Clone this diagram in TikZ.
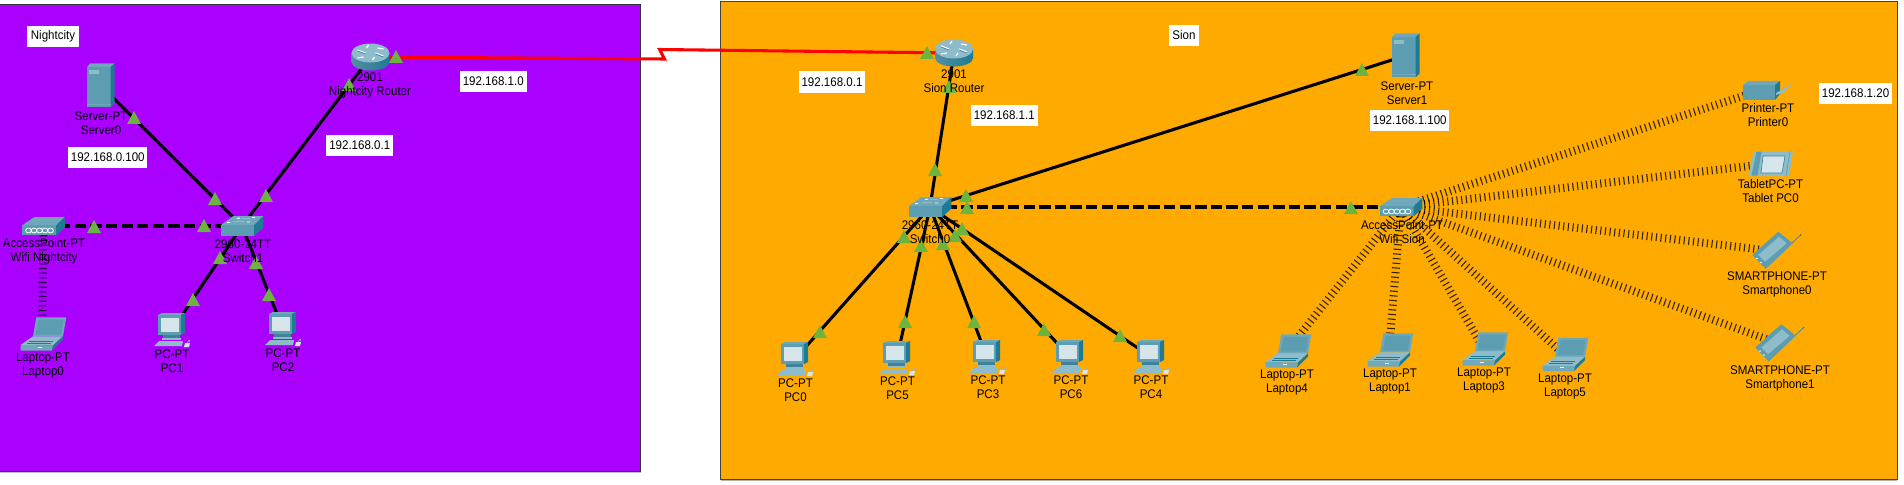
\documentclass[tikz,border=0pt]{standalone}
\usepackage{fontspec}
\setmainfont[FakeStretch=0.92]{Liberation Sans}
\definecolor{purplebg}{HTML}{A900FF}
\definecolor{orangebg}{HTML}{FFAA00}
\definecolor{ictop}{HTML}{6FA8BA}
\definecolor{icfront}{HTML}{5C9DB2}
\definecolor{icside}{HTML}{1F7B94}
\definecolor{icdark}{HTML}{3F8299}
\definecolor{icscreen}{HTML}{D5E5EA}
\definecolor{iclight}{HTML}{8FBCCB}
\definecolor{lkgreen}{HTML}{6CB33F}
\tikzset{
  wire/.style={black,line width=2.3pt},
  dashwire/.style={black,line width=2.3pt,dash pattern=on 8.5pt off 3.2pt},
  serialwire/.style={red,line width=2.3pt,line join=miter},
  wifiwire/.style={black,opacity=.8,line width=6pt,dash pattern=on .8pt off 2.7pt},
  anchorpt/.style={inner sep=0pt,minimum size=0pt,outer sep=0pt},
  devlabel/.style={inner sep=0pt,align=center,font=\fontsize{9.4}{10.5}\selectfont,text=black},
  ipbox/.style={fill=white,inner sep=0pt,minimum height=15.8pt,font=\fontsize{9.4}{11}\selectfont,text=black},
  switchicon/.pic={
    \fill[ictop] (-21.3,-.7)--(-8.7,-10)--(21.3,-10)--(12,-.7)--cycle;
    \fill[icfront] (-21.3,-.7) rectangle (12,10.3);
    \fill[icside] (12,-.7)--(21.3,-10)--(21.3,1.7)--(12,10.3)--cycle;
    \draw[white,line width=.7pt] (-5,-7.5)--(-2,-8) (10,-8.5)--(13,-8.5) (-15,-3.5)--(-12,-3.5) (5,-4)--(8,-4);
    \draw[iclight,line width=.7pt] (-8,-4.5)--(2,-4.5) (0,-7.5)--(8,-7.5);
  },
  apicon/.pic={
    \fill[ictop] (-21.3,-.7)--(-9,-9)--(21.3,-9)--(12.7,-.7)--cycle;
    \fill[icfront] (-21.3,-.7) rectangle (12.7,9.3);
    \fill[icside] (12.7,-.7)--(21.3,-9)--(21.3,1.7)--(12.7,9.3)--cycle;
    \foreach \cx in {-15,-9.5,-4,1.5,7}
      \draw[white,line width=.6pt] (\cx,4.5) ellipse (2.9 and 2.4);
  },
  servericon/.pic={
    \fill[ictop] (-13.7,-18.7)--(-11,-22)--(13.7,-22)--(9.7,-18.7)--cycle;
    \fill[icfront] (-13.7,-18.7) rectangle (9.7,22);
    \fill[icside] (9.7,-18.7)--(13.7,-22)--(13.7,18)--(9.7,22)--cycle;
    \fill[iclight] (-12,-15.5) rectangle (-2,-11.5);
    \fill[ictop] (-13.7,19) rectangle (9.7,20);
  },
  routericon/.pic={
    \shade[left color=icdark!90,middle color=icscreen,right color=icside]
      (-19,-4) -- (-19,5) arc[start angle=180,end angle=0,x radius=19,y radius=8.5] -- (19,-4) -- cycle;
    \fill[iclight] (0,-4) ellipse (19 and 9.5);
    \draw[white,line width=.9pt] (-13,-7)--(-5,-4) (13,-1)--(5,-4) (-2,-12)--(-4,-9) (2,3)--(4,0) (7,-9)--(13,-8) (-7,0)--(-13,1);
    \draw[icside,line width=.4pt] (-13,-6)--(-5,-3) (13,0)--(5,-3);
  },
  pcicon/.pic={
    \fill[ictop] (-14,-15)--(-10,-17)--(13,-17)--(9,-15)--cycle;
    \fill[icfront] (-14,-15) rectangle (9,5);
    \fill[icside] (9,-15)--(13,-17)--(13,3)--(9,5)--cycle;
    \fill[icscreen] (-11.5,-12.5) rectangle (7,2);
    \fill[icdark] (-9,5) rectangle (8,8);
    \fill[iclight] (-10,8) rectangle (9,10);
    \fill[iclight] (-18,16)--(-13,11)--(11,11)--(10,16)--cycle;
    \fill[icscreen] (13,13)--(18,13)--(17,17)--(12,17)--cycle;
    \draw[iclight,line width=.4pt] (15,13) .. controls (17,9) and (19,10) .. (17,12);
  },
  laptopicon/.pic={
    \fill[ictop] (-5.7,-16.7)--(24.3,-16.7)--(21,2.3)--(-9,2.3)--cycle;
    \fill[icfront] (-3,-14.5)--(21.5,-14.5)--(19,.5)--(-6.5,.5)--cycle;
    \fill[iclight] (-21.3,11)--(-9,2.3)--(21,2.3)--(11,11.5)--cycle;
    \fill[ictop] (-21.3,11)--(11,11.5)--(10,16.7)--(-21.3,16.7)--cycle;
    \fill[icside] (11,11.5)--(21,2.3)--(21,5.5)--(10,16.7)--cycle;
    \draw[icside,line width=.5pt] (-13,7)--(11,7) (-15,9)--(9,9);
    \draw[white,line width=.5pt] (-4,13)--(0,13);
  },
  printericon/.pic={
    \fill[ictop] (-25,-3)--(-20,-7)--(12,-7)--(7,-3)--cycle;
    \fill[icfront] (-25,-3) rectangle (7,12);
    \fill[icside] (7,-3)--(12,-7)--(12,6)--(7,12)--cycle;
    \fill[iclight] (8,5)--(25,-5)--(15,5)--(8,7)--cycle;
  },
  tableticon/.pic={
    \fill[iclight] (-16.5,-12.5)--(22.5,-12.5)--(18.5,12.5)--(-22.5,12.5)--cycle;
    \fill[icfront] (-14,-12)--(-9,-12)--(-13,12)--(-19,12)--cycle;
    \fill[icscreen] (-7.5,-7.5)--(14.5,-7.5)--(11.5,9.5)--(-9.5,9.5)--cycle;
    \draw[icdark,line width=.5pt] (-7.5,-7.5)--(14.5,-7.5)--(11.5,9.5)--(-9.5,9.5)--cycle;
    \draw[icfront,line width=.5pt] (19.5,-12.5)--(15.5,12.5);
  },
  phoneicon/.pic={
    \draw[icdark,line width=.5pt] (14.7,-8.2)--(23.7,-16.5);
    \fill[icside] (23.7,-16.5) circle (.9);
    \fill[icfront] (-24.7,3.5)--(1.3,-19.8)--(15.7,-8.2)--(-11.3,17.5)--cycle;
    \fill[iclight] (-18.7,3.5)--(2,-14.8)--(9.7,-8.2)--(-12,10.2)--cycle;
    \fill[white] (-20,7) circle (.8) (-16,11) circle (.8);
  },
  lkup/.pic={\fill[lkgreen] (0,-7)--(7,6)--(-7,6)--cycle;}
}
\newcommand{\ptlabel}[4]{\node[devlabel] (#1) at (#2) {#3\\#4};}
\begin{document}
\begin{tikzpicture}[x=.75pt,y=-.75pt]
\useasboundingbox (0,0) rectangle (1904,485);
% areas
\fill[black!25] (0,471) rectangle (641,473);
\filldraw[fill=purplebg,draw=black!80,line width=.6pt] (-3,4.5) rectangle (640.5,471);
\fill[black!30] (720.5,479) rectangle (1897,481);
\filldraw[fill=orangebg,draw=black!75,line width=.7pt] (720.5,1) rectangle (1897,479);
% device anchors
\node[anchorpt] (rN) at (370.5,57) {};
\node[anchorpt] (srv0) at (101,85.5) {};
\node[anchorpt] (sw1) at (242,226) {};
\node[anchorpt] (apN) at (43.5,226) {};
\node[anchorpt] (lap0) at (42,334) {};
\node[anchorpt] (pc1) at (172,330) {};
\node[anchorpt] (pc2) at (283,329) {};
\node[anchorpt] (rS) at (954,53) {};
\node[anchorpt] (sw0) at (930,207) {};
\node[anchorpt] (srv1) at (1406,55.5) {};
\node[anchorpt] (apS) at (1401,207) {};
\node[anchorpt] (pc0) at (795,359) {};
\node[anchorpt] (pc5) at (897,358) {};
\node[anchorpt] (pc3) at (987,357) {};
\node[anchorpt] (pc6) at (1070,357) {};
\node[anchorpt] (pc4) at (1151,357) {};
\node[anchorpt] (lap4) at (1287,351) {};
\node[anchorpt] (lap1) at (1389,350) {};
\node[anchorpt] (lap3) at (1484,349) {};
\node[anchorpt] (lap5) at (1564,354.5) {};
\node[anchorpt] (prn) at (1768,88) {};
\node[anchorpt] (tab) at (1770.5,163.5) {};
\node[anchorpt] (ph0) at (1777,251.5) {};
\node[anchorpt] (ph1) at (1780,344) {};
\coordinate (jogA) at (664.5,59);
\coordinate (jogB) at (659.6,49.5);
% wireless links
\foreach \t in {lap0} \draw[wifiwire] (apN.center) -- (\t.center);
\foreach \t in {prn,tab,ph0,ph1,lap4,lap1,lap3,lap5} \draw[wifiwire] (apS.center) -- (\t.center);
% wired links
\draw[wire] (srv0.center) -- (sw1.center);
\draw[wire] (rN.center) -- (sw1.center);
\draw[wire] (sw1.center) -- (pc1.center);
\draw[wire] (sw1.center) -- (pc2.center);
\draw[dashwire] (apN.center) -- (sw1.center);
\draw[wire] (rS.center) -- (sw0.center);
\draw[wire] (sw0.center) -- (srv1.center);
\draw[dashwire] (sw0.center) -- (apS.center);
\foreach \t in {pc0,pc5,pc3,pc6,pc4} \draw[wire] (sw0.center) -- (\t.center);
\draw[serialwire] (rN.center) -- (jogA) -- (jogB) -- (rS.center);
% icons
\pic at (rN) {routericon};
\pic at (srv0) {servericon};
\pic at (sw1) {switchicon};
\pic at (apN) {apicon};
\pic at (lap0) {laptopicon};
\pic at (pc1) {pcicon};
\pic at (pc2) {pcicon};
\pic at (rS) {routericon};
\pic at (sw0) {switchicon};
\pic at (srv1) {servericon};
\pic at (apS) {apicon};
\foreach \t in {pc0,pc5,pc3,pc6,pc4} \pic at (\t) {pcicon};
\foreach \t in {lap4,lap1,lap3,lap5} \pic at (\t) {laptopicon};
\pic at (prn) {printericon};
\pic at (tab) {tableticon};
\pic at (ph0) {phoneicon};
\pic at (ph1) {phoneicon};
% link lights
\foreach \p in {(134,118),(215,199),(266,196),(349,85),(396,57),(94,227),(204,226),(220,258),(256,263),(193,300),(269,295),
  (927,53),(949,87),(935,170),(966,196),(967,208),(904,237),(921,246),(943,244),(955,236),(962,229),
  (820,332),(905,322),(974,322),(1044,330),(1120,336),(1362,70),(1351,208)}
  \pic at \p {lkup};
% device labels
\ptlabel{tRN}{370,85}{2901}{Nightcity Router}
\ptlabel{tSrv0}{101,123}{Server-PT}{Server0}
\ptlabel{tSw1}{243,251}{2960-24TT}{Switch1}
\ptlabel{tApN}{44,251}{AccessPoint-PT}{Wifi Nightcity}
\ptlabel{tLap0}{43,365}{Laptop-PT}{Laptop0}
\ptlabel{tPc1}{172,361}{PC-PT}{PC1}
\ptlabel{tPc2}{283,360}{PC-PT}{PC2}
\ptlabel{tRS}{954,81}{2901}{Sion Router}
\ptlabel{tSw0}{930,232}{2960-24TT}{Switch0}
\ptlabel{tSrv1}{1407,93}{Server-PT}{Server1}
\ptlabel{tApS}{1402,232}{AccessPoint-PT}{Wifi Sion}
\ptlabel{tPc0}{795.5,390}{PC-PT}{PC0}
\ptlabel{tPc5}{897.5,388}{PC-PT}{PC5}
\ptlabel{tPc3}{988,387}{PC-PT}{PC3}
\ptlabel{tPc6}{1071,387}{PC-PT}{PC6}
\ptlabel{tPc4}{1151,387}{PC-PT}{PC4}
\ptlabel{tLap4}{1287,382}{Laptop-PT}{Laptop4}
\ptlabel{tLap1}{1390,381}{Laptop-PT}{Laptop1}
\ptlabel{tLap3}{1484,380}{Laptop-PT}{Laptop3}
\ptlabel{tLap5}{1565,386}{Laptop-PT}{Laptop5}
\ptlabel{tPrn}{1768,115}{Printer-PT}{Printer0}
\ptlabel{tTab}{1770.5,191}{TabletPC-PT}{Tablet PC0}
\ptlabel{tPh0}{1777,284}{SMARTPHONE-PT}{Smartphone0}
\ptlabel{tPh1}{1780,378}{SMARTPHONE-PT}{Smartphone1}
% text boxes
\node[ipbox,minimum width=39pt] (nNight) at (53,36.5) {Nightcity};
\node[ipbox,minimum width=22.5pt] (nSion) at (1184,35.5) {Sion};
\node[ipbox,minimum width=59pt] (ip1) at (107.75,157.5) {192.168.0.100};
\node[ipbox,minimum width=50pt] (ip2) at (359.75,145.5) {192.168.0.1};
\node[ipbox,minimum width=50pt] (ip3) at (493.25,81.5) {192.168.1.0};
\node[ipbox,minimum width=50pt] (ip4) at (832,82) {192.168.0.1};
\node[ipbox,minimum width=50pt] (ip5) at (1004.25,115.5) {192.168.1.1};
\node[ipbox,minimum width=59pt] (ip6) at (1409.75,120.5) {192.168.1.100};
\node[ipbox,minimum width=54.5pt] (ip7) at (1855.5,93.5) {192.168.1.20};
\end{tikzpicture}
\end{document}
